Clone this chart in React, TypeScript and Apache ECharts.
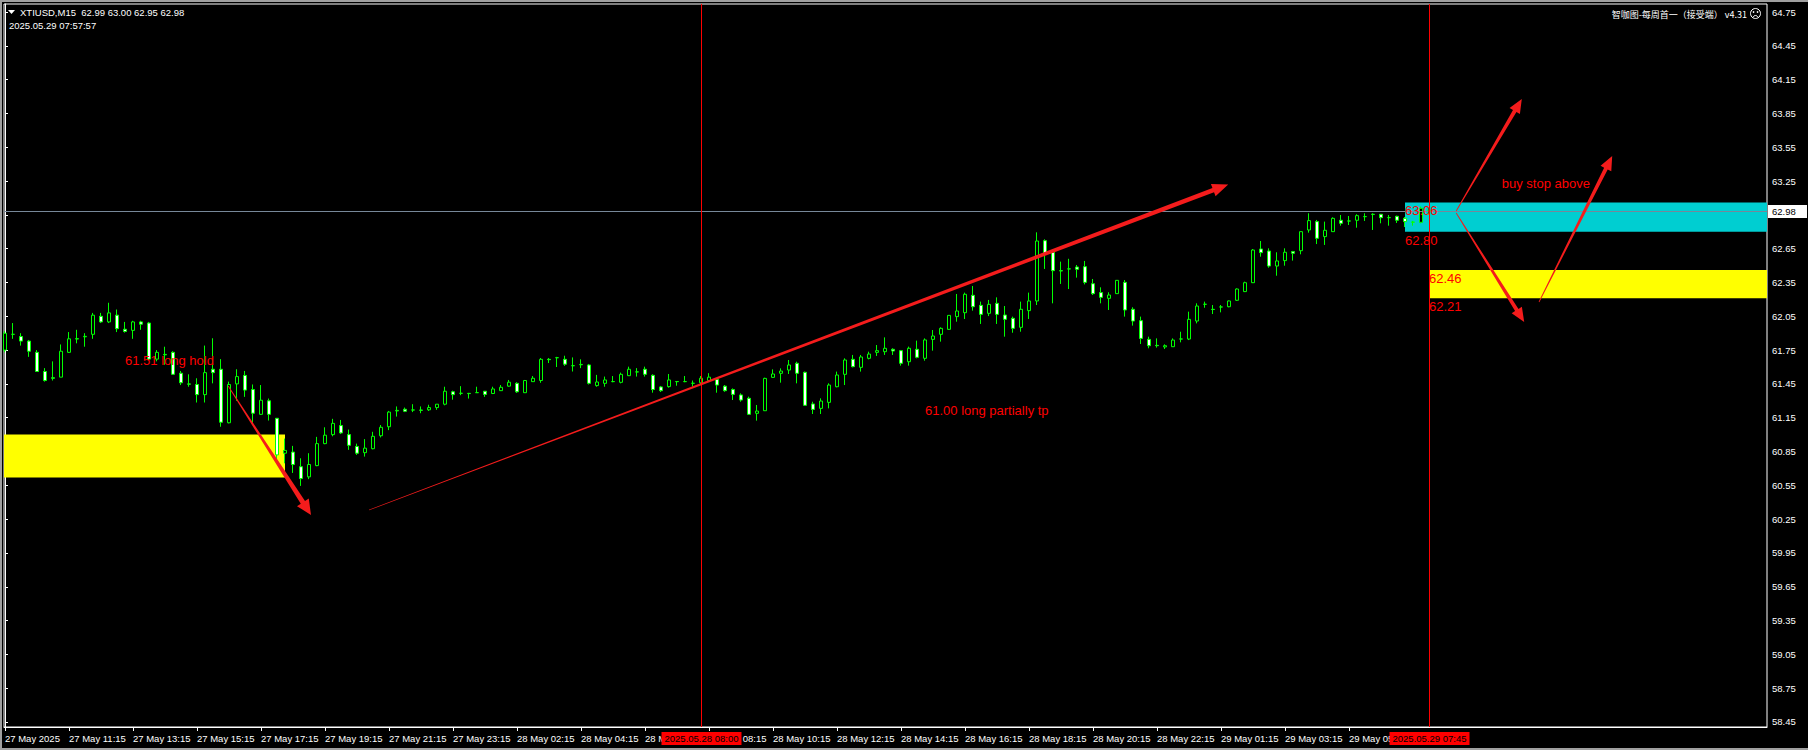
import React, { useEffect, useRef } from "react";
import * as echarts from "echarts";

// ---------- header texts ----------
const symbolHeader = "XTIUSD,M15  62.99 63.00 62.95 62.98";
const serverTime = "2025.05.29 07:57:57";
const indicatorTitle = "智咖图-每周首一（接受端） v4.31";

// ---------- candles (M15, bar index 0 = 27 May 09:15) ----------
const opens = [
  61.75, 61.89, 61.87, 61.83, 61.73, 61.56, 61.505, 61.51, 61.73, 61.848,
  61.868, 61.89, 62.05, 62.0, 62.06, 61.935, 61.925, 62.0, 61.99, 61.67,
  61.712, 61.73, 61.545, 61.45, 61.445, 61.355, 61.58, 61.58, 61.105, 61.45,
  61.525, 61.4, 61.18, 61.3, 61.145, 60.835, 60.845, 60.715, 60.625, 60.725,
  60.92, 61.0, 61.08, 61.0, 60.895, 60.84, 60.875, 60.99, 61.07, 61.21,
  61.225, 61.218, 61.218, 61.22, 61.24, 61.27, 61.38, 61.366, 61.366, 61.372,
  61.385, 61.365, 61.39, 61.43, 61.455, 61.372, 61.47, 61.48, 61.668, 61.683,
  61.668, 61.612, 61.62, 61.618, 61.435, 61.455, 61.47, 61.464, 61.523, 61.556,
  61.58, 61.526, 61.423, 61.426, 61.471, 61.47, 61.455, 61.46, 61.48, 61.49,
  61.43, 61.4, 61.352, 61.322, 61.189, 61.212, 61.508, 61.544, 61.573, 61.633,
  61.553, 61.272, 61.233, 61.286, 61.425, 61.535, 61.668, 61.597, 61.677, 61.73,
  61.736, 61.757, 61.745, 61.647, 61.757, 61.677, 61.845, 61.89, 61.934, 62.047,
  62.082, 62.236, 62.147, 62.076, 62.165, 62.061, 62.032, 61.952, 62.1, 62.186,
  62.721, 62.618, 62.455, 62.47, 62.487, 62.49, 62.339, 62.26, 62.209, 62.251,
  62.351, 62.112, 62.011, 61.845, 61.792, 61.778, 61.78, 61.848, 61.848, 62.008,
  62.156, 62.112, 62.132, 62.135, 62.192, 62.269, 62.348, 62.647, 62.629, 62.496,
  62.544, 62.624, 62.632, 62.816, 62.89, 62.757, 62.801, 62.902, 62.895, 62.902,
  62.934, 62.955, 62.955, 62.925, 62.937, 62.919, 62.886, 62.884, 62.99,
];
const highs = [
  61.92, 61.99, 61.9, 61.84, 61.75, 61.59, 61.65, 61.8, 61.91, 61.93,
  61.9, 62.08, 62.08, 62.17, 62.11, 62.0, 62.01, 62.01, 62.0, 61.75,
  61.78, 61.74, 61.565, 61.535, 61.5, 61.79, 61.855, 61.67, 61.47, 61.58,
  61.565, 61.445, 61.44, 61.32, 61.147, 60.965, 60.9, 60.79, 60.835, 60.98,
  61.065, 61.14, 61.13, 61.045, 60.92, 60.96, 61.025, 61.085, 61.21, 61.25,
  61.24, 61.27, 61.25, 61.265, 61.27, 61.425, 61.39, 61.43, 61.37, 61.425,
  61.387, 61.425, 61.44, 61.485, 61.465, 61.485, 61.52, 61.68, 61.68, 61.69,
  61.7, 61.685, 61.668, 61.627, 61.53, 61.515, 61.52, 61.55, 61.603, 61.59,
  61.603, 61.535, 61.432, 61.538, 61.473, 61.52, 61.48, 61.52, 61.545, 61.5,
  61.44, 61.41, 61.366, 61.337, 61.263, 61.505, 61.579, 61.588, 61.662, 61.647,
  61.559, 61.292, 61.322, 61.455, 61.559, 61.677, 61.707, 61.707, 61.736, 61.795,
  61.863, 61.766, 61.751, 61.781, 61.834, 61.854, 61.928, 61.952, 62.06, 62.248,
  62.26, 62.319, 62.18, 62.195, 62.218, 62.141, 62.047, 62.18, 62.26, 62.795,
  62.733, 62.644, 62.535, 62.56, 62.505, 62.541, 62.381, 62.307, 62.263, 62.372,
  62.372, 62.13, 62.047, 61.869, 61.854, 61.801, 61.854, 61.913, 62.091, 62.165,
  62.18, 62.15, 62.15, 62.19, 62.298, 62.357, 62.647, 62.718, 62.653, 62.618,
  62.653, 62.63, 62.801, 62.964, 62.905, 62.89, 62.928, 62.949, 62.94, 62.955,
  62.964, 62.964, 62.958, 62.949, 62.943, 62.931, 62.896, 63.023, 63.0,
];
const lows = [
  61.73, 61.85, 61.79, 61.69, 61.56, 61.47, 61.48, 61.51, 61.725, 61.81,
  61.78, 61.85, 61.99, 61.99, 61.91, 61.905, 61.85, 61.93, 61.66, 61.65,
  61.62, 61.53, 61.44, 61.425, 61.285, 61.285, 61.455, 61.07, 61.1, 61.3,
  61.335, 61.105, 61.175, 61.125, 60.76, 60.745, 60.66, 60.545, 60.605, 60.72,
  60.915, 60.985, 61.005, 60.865, 60.82, 60.805, 60.87, 60.975, 61.04, 61.16,
  61.2, 61.2, 61.19, 61.21, 61.22, 61.26, 61.31, 61.35, 61.32, 61.37,
  61.335, 61.36, 61.388, 61.425, 61.37, 61.37, 61.468, 61.46, 61.635, 61.6,
  61.61, 61.56, 61.59, 61.445, 61.425, 61.425, 61.465, 61.455, 61.52, 61.515,
  61.515, 61.372, 61.378, 61.417, 61.434, 61.465, 61.426, 61.45, 61.47, 61.372,
  61.38, 61.307, 61.292, 61.174, 61.124, 61.21, 61.505, 61.461, 61.538, 61.455,
  61.257, 61.183, 61.183, 61.233, 61.42, 61.44, 61.597, 61.559, 61.668, 61.698,
  61.707, 61.707, 61.612, 61.612, 61.677, 61.656, 61.745, 61.825, 61.93, 62.002,
  62.026, 62.1, 61.982, 62.052, 61.982, 61.869, 61.904, 61.913, 62.026, 62.15,
  62.47, 62.165, 62.337, 62.292, 62.393, 62.333, 62.239, 62.165, 62.106, 62.248,
  62.047, 61.967, 61.804, 61.766, 61.772, 61.76, 61.778, 61.819, 61.839, 61.987,
  62.126, 62.07, 62.085, 62.13, 62.186, 62.265, 62.345, 62.579, 62.481, 62.41,
  62.499, 62.544, 62.6, 62.792, 62.691, 62.683, 62.8, 62.854, 62.86, 62.836,
  62.896, 62.816, 62.875, 62.854, 62.878, 62.842, 62.854, 62.875, 62.95,
];
const closes = [
  61.9, 61.89, 61.83, 61.74, 61.56, 61.48, 61.5, 61.74, 61.85, 61.852,
  61.872, 62.06, 62.0, 62.08, 61.94, 61.915, 62.0, 61.98, 61.67, 61.73,
  61.708, 61.535, 61.46, 61.448, 61.355, 61.55, 61.55, 61.11, 61.445, 61.515,
  61.395, 61.19, 61.305, 61.18, 60.82, 60.86, 60.735, 60.61, 60.735, 60.92,
  60.995, 61.1, 61.015, 60.905, 60.835, 60.88, 60.985, 61.065, 61.2, 61.215,
  61.207, 61.219, 61.216, 61.24, 61.27, 61.385, 61.355, 61.367, 61.364, 61.373,
  61.357, 61.405, 61.42, 61.465, 61.38, 61.48, 61.5, 61.668, 61.665, 61.682,
  61.625, 61.611, 61.623, 61.455, 61.467, 61.485, 61.471, 61.535, 61.58, 61.557,
  61.535, 61.4, 61.39, 61.485, 61.47, 61.471, 61.456, 61.5, 61.51, 61.44,
  61.39, 61.357, 61.307, 61.18, 61.209, 61.499, 61.538, 61.564, 61.618, 61.544,
  61.26, 61.224, 61.298, 61.44, 61.529, 61.662, 61.603, 61.689, 61.715, 61.745,
  61.766, 61.742, 61.633, 61.766, 61.686, 61.84, 61.875, 61.943, 62.058, 62.097,
  62.245, 62.135, 62.067, 62.156, 62.067, 62.023, 61.943, 62.112, 62.186, 62.718,
  62.609, 62.455, 62.452, 62.471, 62.467, 62.351, 62.251, 62.218, 62.239, 62.369,
  62.106, 62.008, 61.854, 61.789, 61.789, 61.789, 61.839, 61.849, 62.023, 62.141,
  62.157, 62.11, 62.133, 62.186, 62.292, 62.348, 62.638, 62.615, 62.496, 62.541,
  62.618, 62.609, 62.801, 62.899, 62.742, 62.813, 62.919, 62.875, 62.896, 62.943,
  62.935, 62.954, 62.925, 62.926, 62.902, 62.89, 62.884, 63.008, 62.98,
];

// ---------- axes ----------
const priceTicks = [
  64.75, 64.45, 64.15, 63.85, 63.55, 63.25, 62.95, 62.65, 62.35, 62.05, 61.75,
  61.45, 61.15, 60.85, 60.55, 60.25, 59.95, 59.65, 59.35, 59.05, 58.75, 58.45,
];
const timeTickBars = [
  0, 8, 16, 24, 32, 40, 48, 56, 64, 72, 80, 88, 96, 104, 112, 120, 128, 136,
  144, 152, 160, 168,
];
const timeTickLabels = [
  "27 May 2025", "27 May 11:15", "27 May 13:15", "27 May 15:15", "27 May 17:15",
  "27 May 19:15", "27 May 21:15", "27 May 23:15", "28 May 02:15", "28 May 04:15",
  "28 May 06:15", "28 May 08:15", "28 May 10:15", "28 May 12:15", "28 May 14:15",
  "28 May 16:15", "28 May 18:15", "28 May 20:15", "28 May 22:15", "29 May 01:15",
  "29 May 03:15", "29 May 05:15",
];

// ---------- annotations (bar index / price) ----------
const bidPrice = 62.98;
const vLineBars = [87, 178];
const vLineLabels = ["2025.05.28 08:00", "2025.05.29 07:45"];

const zoneFromBar = [-2, 175, 178];
const zoneToBar = [35, 230, 230];
const zoneTop = [61.0, 63.06, 62.46];
const zoneBottom = [60.62, 62.8, 62.21];
const zoneColors = ["#ffff00", "#00ced1", "#ffff00"];
const zoneLabelBars = [175, 175, 178, 178];
const zoneLabelPrices = [63.06, 62.8, 62.46, 62.21];
const zoneLabelTexts = ["63.06", "62.80", "62.46", "62.21"];

const noteTexts = ["61.51 long hold", "61.00 long partially tp", "buy stop above"];
const noteBars = [15, 115, 187.1];
const notePrices = [61.662, 61.212, 63.224];

const arrowFrom = [
  [27.9, 61.431],
  [45.5, 60.331],
  [181.4, 62.984],
  [181.4, 62.966],
  [191.75, 62.177],
];
const arrowTo = [
  [38.25, 60.287],
  [152.9, 63.22],
  [189.6, 63.978],
  [189.9, 62.0],
  [200.9, 63.472],
];

const X_MIN = -0.125;
const X_MAX = 220.25;
const Y_MIN = 58.40563;
const Y_MAX = 64.821;

const FONT = "'Liberation Sans', Arial, sans-serif";
const RED = "#ff0000";
const ARROW_RED = "#f41c1c";

function arrowPoints(a: number[], b: number[], w0: number, w1: number, hl: number, hw: number) {
  const dx = b[0] - a[0];
  const dy = b[1] - a[1];
  const L = Math.hypot(dx, dy);
  const ux = dx / L;
  const uy = dy / L;
  const nx = -uy;
  const ny = ux;
  const bx = b[0] - ux * hl;
  const by = b[1] - uy * hl;
  return [
    [a[0] + (nx * w0) / 2, a[1] + (ny * w0) / 2],
    [bx + (nx * w1) / 2, by + (ny * w1) / 2],
    [bx + nx * hw, by + ny * hw],
    [b[0], b[1]],
    [bx - nx * hw, by - ny * hw],
    [bx - (nx * w1) / 2, by - (ny * w1) / 2],
    [a[0] - (nx * w0) / 2, a[1] - (ny * w0) / 2],
  ];
}

export default function App() {
  const ref = useRef<HTMLDivElement>(null);

  useEffect(() => {
    document.body.style.margin = "0";
    document.body.style.background = "#000";
    const el = ref.current as HTMLDivElement;
    const chart = echarts.init(el, null, { renderer: "svg" });

    const candleData = opens.map((o, i) => [i, o, closes[i], lows[i], highs[i]]);
    const zoneData = zoneTop.map((t, i) => [zoneFromBar[i], zoneToBar[i], t, zoneBottom[i], i]);

    chart.setOption({
      animation: false,
      backgroundColor: "#000000",
      grid: {
        left: 4,
        top: 4,
        width: 1763,
        height: 723,
        show: true,
        borderColor: "#ffffff",
        borderWidth: 1,
        backgroundColor: "transparent",
      },
      xAxis: {
        type: "value",
        min: X_MIN,
        max: X_MAX,
        splitLine: { show: false },
        axisLine: { show: true, lineStyle: { color: "#ffffff", width: 1 } },
        axisTick: {
          show: true,
          customValues: timeTickBars,
          length: 4,
          lineStyle: { color: "#ffffff" },
        },
        axisLabel: {
          customValues: timeTickBars,
          formatter: (v: number) => {
            const k = timeTickBars.indexOf(Math.round(v));
            return k >= 0 ? timeTickLabels[k] : "";
          },
          align: "left",
          color: "#ffffff",
          fontSize: 9.5,
          fontFamily: FONT,
          margin: 6,
        },
      },
      yAxis: {
        type: "value",
        position: "right",
        min: Y_MIN,
        max: Y_MAX,
        scale: true,
        splitLine: { show: false },
        axisLine: { show: true, lineStyle: { color: "#ffffff", width: 1 } },
        axisTick: {
          show: true,
          customValues: priceTicks,
          length: 3,
          lineStyle: { color: "#ffffff" },
        },
        axisLabel: {
          customValues: priceTicks,
          formatter: (v: number) => v.toFixed(2),
          color: "#ffffff",
          fontSize: 9.5,
          fontFamily: FONT,
          margin: 5,
        },
      },
      series: [
        {
          type: "custom",
          z: 1,
          silent: true,
          data: zoneData,
          encode: { x: [0, 1], y: [2, 3] },
          renderItem: (params: any, api: any) => {
            const p0 = api.coord([api.value(0), api.value(2)]);
            const p1 = api.coord([api.value(1), api.value(3)]);
            const cs = params.coordSys;
            const x0 = Math.max(p0[0], cs.x);
            const x1 = Math.min(p1[0], cs.x + cs.width);
            return {
              type: "rect",
              shape: { x: x0, y: p0[1], width: x1 - x0, height: p1[1] - p0[1] },
              style: { fill: zoneColors[api.value(4)] },
            };
          },
        },
        {
          type: "candlestick",
          z: 5,
          silent: true,
          data: candleData,
          barWidth: 4,
          itemStyle: {
            color: "#000000",
            color0: "#ffffff",
            borderColor: "#00ff00",
            borderColor0: "#00ff00",
            borderWidth: 1,
          },
        },
      ],
    });

    const px = (x: number, y: number) =>
      chart.convertToPixel({ gridIndex: 0 }, [x, y]) as number[];
    const plotLeft = px(X_MIN, Y_MAX)[0];
    const plotTop = px(X_MIN, Y_MAX)[1];
    const plotRight = px(X_MAX, Y_MIN)[0];
    const plotBottom = px(X_MAX, Y_MIN)[1];

    const g: any[] = [];

    // window frame
    g.push({ type: "rect", z: 60, shape: { x: 0, y: 0, width: 1808, height: 2 }, style: { fill: "#a0a0a0" } });
    g.push({ type: "rect", z: 60, shape: { x: 0, y: 0, width: 2, height: 750 }, style: { fill: "#a0a0a0" } });
    g.push({ type: "rect", z: 60, shape: { x: 0, y: 748, width: 1808, height: 2 }, style: { fill: "#a0a0a0" } });

    // bid line
    const by = Math.round(px(0, bidPrice)[1]) + 0.5;
    g.push({
      type: "line",
      z: 20,
      shape: { x1: plotLeft, y1: by, x2: plotRight, y2: by },
      style: { stroke: "#778899", lineWidth: 1 },
    });

    // vertical red lines and time labels
    vLineBars.forEach((b, i) => {
      const x = Math.round(px(b, 0)[0]) + 0.5;
      g.push({
        type: "line",
        z: 30,
        shape: { x1: x, y1: plotTop, x2: x, y2: plotBottom },
        style: { stroke: RED, lineWidth: 1 },
      });
      g.push({
        type: "rect",
        z: 40,
        shape: { x: x - 40, y: plotBottom + 5, width: 80, height: 13 },
        style: { fill: RED },
      });
      g.push({
        type: "text",
        z: 41,
        x: x,
        y: plotBottom + 11.5,
        style: {
          text: vLineLabels[i],
          fill: "#000000",
          font: `9.5px ${FONT}`,
          align: "center",
          verticalAlign: "middle",
        },
      });
    });

    // bid price label
    g.push({
      type: "rect",
      z: 45,
      shape: { x: plotRight + 1, y: by - 6.5, width: 39, height: 13 },
      style: { fill: "#ffffff" },
    });
    g.push({
      type: "text",
      z: 46,
      x: plotRight + 5,
      y: by,
      style: {
        text: bidPrice.toFixed(2),
        fill: "#000000",
        font: `9.5px ${FONT}`,
        align: "left",
        verticalAlign: "middle",
      },
    });

    // zone level labels
    zoneLabelTexts.forEach((t, i) => {
      const p = px(zoneLabelBars[i], zoneLabelPrices[i]);
      g.push({
        type: "text",
        z: 25,
        x: p[0],
        y: p[1] + 2,
        style: { text: t, fill: RED, font: `13px ${FONT}`, align: "left", verticalAlign: "top" },
      });
    });

    // notes
    noteTexts.forEach((t, i) => {
      const p = px(noteBars[i], notePrices[i]);
      g.push({
        type: "text",
        z: 25,
        x: p[0],
        y: p[1],
        style: { text: t, fill: RED, font: `13px ${FONT}`, align: "left", verticalAlign: "middle" },
      });
    });

    // arrows
    const arrowSizes = [
      [0.8, 5, 15, 7],
      [0.6, 4.5, 16, 6.5],
      [0.8, 4, 14, 6],
      [0.8, 4, 14, 6],
      [0.8, 4, 14, 6],
    ];
    arrowFrom.forEach((a, i) => {
      const pa = px(a[0], a[1]);
      const pb = px(arrowTo[i][0], arrowTo[i][1]);
      const s = arrowSizes[i];
      g.push({
        type: "polygon",
        z: 35,
        shape: { points: arrowPoints(pa, pb, s[0], s[1], s[2], s[3]) },
        style: { fill: ARROW_RED },
      });
    });

    // header
    g.push({
      type: "polygon",
      z: 50,
      shape: { points: [[8, 10], [15, 10], [11.5, 14]] },
      style: { fill: "#ffffff" },
    });
    g.push({
      type: "text",
      z: 50,
      x: 20,
      y: 12.5,
      style: { text: symbolHeader, fill: "#ffffff", font: `9.5px ${FONT}`, align: "left", verticalAlign: "middle" },
    });
    g.push({
      type: "text",
      z: 50,
      x: 9,
      y: 25,
      style: { text: serverTime, fill: "#ffffff", font: `9.5px ${FONT}`, align: "left", verticalAlign: "middle" },
    });
    g.push({
      type: "text",
      z: 50,
      x: 1747,
      y: 14,
      style: {
        text: indicatorTitle,
        fill: "#ffffff",
        font: `9px 'Noto Sans CJK SC', ${FONT}`,
        align: "right",
        verticalAlign: "middle",
      },
    });
    g.push({
      type: "circle",
      z: 50,
      shape: { cx: 1755.5, cy: 13.5, r: 5 },
      style: { fill: "none", stroke: "#ffffff", lineWidth: 1 },
    });
    g.push({ type: "circle", z: 50, shape: { cx: 1753.5, cy: 12, r: 0.8 }, style: { fill: "#ffffff" } });
    g.push({ type: "circle", z: 50, shape: { cx: 1757.5, cy: 12, r: 0.8 }, style: { fill: "#ffffff" } });
    g.push({
      type: "arc",
      z: 50,
      shape: { cx: 1755.5, cy: 18, r: 2.5, startAngle: Math.PI * 1.15, endAngle: Math.PI * 1.85 },
      style: { stroke: "#ffffff", lineWidth: 1, fill: "none" },
    });

    chart.setOption({ graphic: g });

    return () => chart.dispose();
  }, []);

  return <div ref={ref} style={{ width: 1808, height: 750, background: "#000" }} />;
}
